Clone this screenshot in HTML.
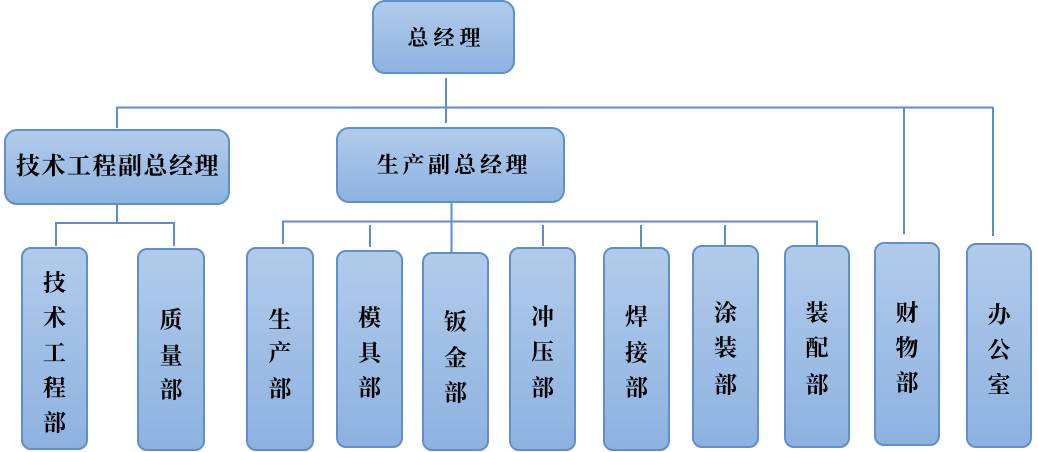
<!DOCTYPE html>
<html><head><meta charset="utf-8"><style>
html,body{margin:0;padding:0;background:#fff;}
svg{display:block;}
text{font-family:"Liberation Serif","Noto Serif CJK SC",serif;fill:#000;text-anchor:middle;dominant-baseline:central;font-weight:bold;}
</style></head><body>
<svg width="1038" height="452" viewBox="0 0 1038 452" xmlns="http://www.w3.org/2000/svg">
<defs>
<linearGradient id="g" x1="0" y1="0" x2="0" y2="1">
<stop offset="0" stop-color="#b2cbea"/>
<stop offset="1" stop-color="#8db2e0"/>
</linearGradient>
</defs>
<g stroke="#5b8fc7" stroke-width="2" fill="none">
<line x1="446" y1="78" x2="446" y2="123"/>
<line x1="117" y1="107.5" x2="993" y2="107.5"/>
<line x1="117" y1="107" x2="117" y2="128"/>
<line x1="904" y1="107" x2="904" y2="234"/>
<line x1="993" y1="107" x2="993" y2="236"/>
<line x1="117" y1="205" x2="117" y2="223"/>
<line x1="55" y1="223" x2="175" y2="223"/>
<line x1="56" y1="223" x2="56" y2="246"/>
<line x1="174" y1="223" x2="174" y2="246"/>
<line x1="451.5" y1="203" x2="451.5" y2="253"/>
<line x1="282" y1="221.5" x2="818" y2="221.5"/>
<line x1="283" y1="221" x2="283" y2="244"/>
<line x1="370" y1="225" x2="370" y2="247"/>
<line x1="543" y1="225" x2="543" y2="246"/>
<line x1="641" y1="225" x2="641" y2="247"/>
<line x1="725" y1="225" x2="725" y2="245"/>
<line x1="817" y1="221" x2="817" y2="245"/>
</g>
<g fill="url(#g)" stroke="#5f90ca" stroke-width="2">
<rect x="373" y="1" width="141" height="72" rx="12"/>
<rect x="5" y="130" width="224" height="74" rx="12"/>
<rect x="337" y="128" width="227" height="74" rx="12"/>
<rect x="22" y="248" width="65" height="201" rx="9"/>
<rect x="138" y="249" width="66" height="201" rx="9"/>
<rect x="247" y="248" width="66" height="202" rx="9"/>
<rect x="337" y="251" width="65" height="196" rx="9"/>
<rect x="423" y="253" width="65" height="197" rx="9"/>
<rect x="510" y="248" width="65" height="202" rx="9"/>
<rect x="604" y="248" width="65" height="202" rx="9"/>
<rect x="693" y="246" width="65" height="201" rx="9"/>
<rect x="785" y="246" width="64" height="201" rx="9"/>
<rect x="875" y="243" width="64" height="202" rx="9"/>
<rect x="967" y="244" width="64" height="203" rx="9"/>
</g>
<g font-size="21">
<text x="418" y="38">总</text><text x="444" y="38">经</text><text x="470" y="38">理</text>
</g>
<g font-size="24">
<text x="28" y="167">技</text><text x="53.5" y="167">术</text><text x="79" y="167">工</text><text x="104.5" y="167">程</text><text x="130" y="167">副</text><text x="155.5" y="167">总</text><text x="181" y="167">经</text><text x="206.5" y="167">理</text>
</g>
<g font-size="22">
<text x="388" y="165">生</text><text x="413.5" y="165">产</text><text x="439" y="165">副</text><text x="465" y="165">总</text><text x="491" y="165">经</text><text x="516.5" y="165">理</text>
</g>
<g font-size="23">
<text x="54.5" y="283">技</text><text x="54.5" y="318">术</text><text x="54.5" y="353">工</text><text x="54.5" y="388">程</text><text x="54.5" y="423">部</text>
<text x="171" y="320">质</text><text x="171" y="356">量</text><text x="171" y="390">部</text>
<text x="280" y="320">生</text><text x="280" y="353">产</text><text x="280" y="389">部</text>
<text x="369.5" y="318">模</text><text x="369.5" y="353">具</text><text x="369.5" y="388">部</text>
<text x="455.5" y="322">钣</text><text x="455.5" y="358">金</text><text x="455.5" y="393">部</text>
<text x="542.5" y="317">冲</text><text x="542.5" y="352">压</text><text x="542.5" y="388">部</text>
<text x="636.5" y="317">焊</text><text x="636.5" y="353">接</text><text x="636.5" y="388">部</text>
<text x="725.5" y="313">涂</text><text x="725.5" y="348">装</text><text x="725.5" y="385">部</text>
<text x="817" y="313">装</text><text x="817" y="348">配</text><text x="817" y="385">部</text>
<text x="907" y="313">财</text><text x="907" y="348">物</text><text x="907" y="383">部</text>
<text x="999" y="315">办</text><text x="999" y="350">公</text><text x="999" y="385">室</text>
</g>
</svg>
</body></html>
